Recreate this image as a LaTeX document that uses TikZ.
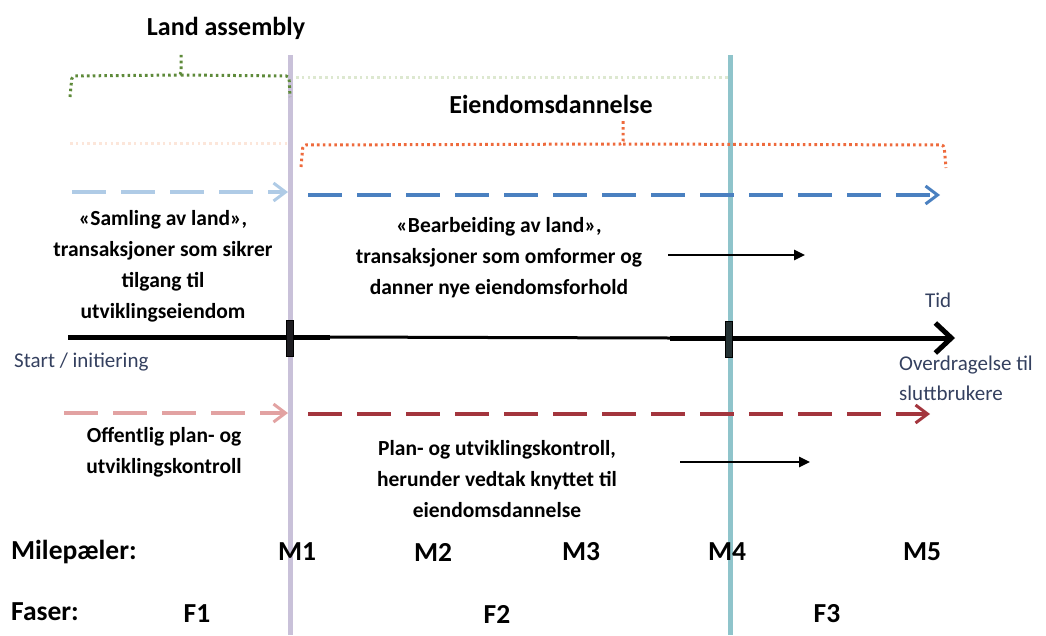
\documentclass[tikz,border=0pt]{standalone}
\usepackage{fontspec}
\setmainfont{Carlito}
\usetikzlibrary{arrows.meta}
\definecolor{mlilac}{HTML}{C9C1D9}
\definecolor{mteal}{HTML}{8FC4CB}
\definecolor{bgreen}{HTML}{5E8A3A}
\definecolor{bgreenl}{HTML}{DDE8D0}
\definecolor{borange}{HTML}{EE6A3C}
\definecolor{borangel}{HTML}{FCE6DA}
\definecolor{alblue}{HTML}{AFCBE6}
\definecolor{ablue}{HTML}{4A80C0}
\definecolor{apink}{HTML}{E2A2A2}
\definecolor{ared}{HTML}{A3353D}
\definecolor{lblue}{HTML}{34405F}
\tikzset{
  lbl/.style={font=\bfseries\fontsize{21.5}{31}\selectfont, align=center, inner sep=0pt},
  ttl/.style={font=\bfseries\fontsize{26}{30}\selectfont, inner sep=0pt},
  mlab/.style={font=\bfseries\fontsize{27.5}{30}\selectfont, inner sep=0pt},
  plain/.style={font=\fontsize{21}{30}\selectfont, text=lblue, inner sep=0pt},
  dotbrace/.style={line width=3pt, dash pattern=on 2.6pt off 3.2pt, rounded corners=3pt},
  dasharrow/.style={line width=3.5pt, dash pattern=on 34pt off 15pt, -{Straight Barb[length=12pt,width=18pt,line width=3pt]}},
  vline/.style={line width=5pt},
  tickmark/.style={draw=black, fill=#1, line width=1pt, minimum width=7pt, minimum height=36pt, inner sep=0pt},
  shortarrow/.style={line width=2.5pt, -{Triangle[length=11pt,width=10pt]}}
}
\begin{document}
\begin{tikzpicture}[x=1pt,y=-1pt]
\useasboundingbox (0,0) rectangle (1046,635);
% vertical milestone lines
\coordinate (v1t) at (290,55); \coordinate (v1b) at (290,635);
\coordinate (v4t) at (730,55); \coordinate (v4b) at (730,635);
\draw[vline, mlilac] (v1t) -- (v1b);
\draw[vline, mteal] (v4t) -- (v4b);

% titles
\node[ttl] (la) at (226,28) {Land assembly};
\node[ttl] (ed) at (551,104) {Eiendomsdannelse};

% green brace
\coordinate (gL) at (70,97); \coordinate (gR) at (290,97); \coordinate (gM) at (181,53);
\draw[dotbrace, bgreen] (gL) -- (72,76) -- (181,75) -- (gM);
\draw[dotbrace, bgreen] (181,75) -- (289,76) -- (gR);
\draw[dotbrace, bgreenl] (296,77) -- (728,77);

% orange brace
\coordinate (oL) at (301,167); \coordinate (oR) at (946,168); \coordinate (oM) at (623,121);
\draw[dotbrace, borangel] (70,143) -- (288,143);
\draw[dotbrace, borange] (oL) -- (303,145) -- (623,144) -- (oM);
\draw[dotbrace, borange] (623,144) -- (944,145) -- (oR);

% blue dashed arrows
\coordinate (b1s) at (72,192); \coordinate (b1e) at (288,192);
\coordinate (b2s) at (308,195); \coordinate (b2e) at (940,195);
\draw[dasharrow, alblue] (b1s) -- (b1e);
\draw[dasharrow, ablue] (b2s) -- (b2e);

% upper texts
\node[lbl] (t1) at (163,266) {«Samling av land»,\\transaksjoner som sikrer\\tilgang til\\utviklingseiendom};
\node[lbl] (t2) at (499,258) {«Bearbeiding av land»,\\transaksjoner som omformer og\\danner nye eiendomsforhold};
\coordinate (sa1s) at (668,255); \coordinate (sa1e) at (805,255);
\draw[shortarrow] (sa1s) -- (sa1e);

% timeline
\coordinate (tl0) at (68,337); \coordinate (tla) at (330,337);
\coordinate (tlb) at (670,338); \coordinate (tl1) at (955,338);
\draw[line width=5pt] (tl0) -- (tla);
\draw[line width=3pt] (tla) -- (490,337.5) -- (tlb);
\draw[line width=5pt, -{Straight Barb[length=16pt,width=30pt,line width=5pt]}] (tlb) -- (tl1);
\node[tickmark=black!85!mlilac] (k1) at (290,338) {};
\node[tickmark=black!75!mteal] (k4) at (729,339) {};
\node[plain, anchor=west] (tid) at (925,300) {Tid};
\node[plain, anchor=west] (start) at (14,362) {Start / initiering};
\node[plain, anchor=north west, align=left] (ovd) at (899,356) {Overdragelse til\\sluttbrukere};

% red dashed arrows
\coordinate (r1s) at (64,413); \coordinate (r1e) at (288,413);
\coordinate (r2s) at (308,414); \coordinate (r2e) at (930,414);
\draw[dasharrow, apink] (r1s) -- (r1e);
\draw[dasharrow, ared] (r2s) -- (r2e);

% lower texts
\node[lbl] (t3) at (164,452) {Offentlig plan- og\\utviklingskontroll};
\node[lbl] (t4) at (497,479) {Plan- og utviklingskontroll,\\herunder vedtak knyttet til\\eiendomsdannelse};
\coordinate (sa2s) at (680,462); \coordinate (sa2e) at (810,462);
\draw[shortarrow] (sa2s) -- (sa2e);

% milestones and phases
\node[mlab, anchor=west] (mil) at (11,552) {Milepæler:};
\node[mlab] (m1) at (297,552) {M1};
\node[mlab] (m2) at (433,552) {M2};
\node[mlab] (m3) at (581,552) {M3};
\node[mlab] (m4) at (727,552) {M4};
\node[mlab] (m5) at (922,552) {M5};
\node[mlab, anchor=west] (fas) at (11,612) {Faser:};
\node[mlab] (f1) at (197,614) {F1};
\node[mlab] (f2) at (497,614) {F2};
\node[mlab] (f3) at (827,614) {F3};
\end{tikzpicture}
\end{document}
